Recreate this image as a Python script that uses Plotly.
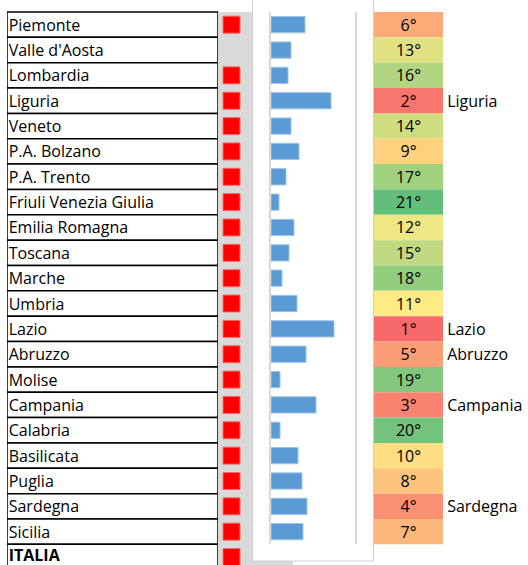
import plotly.graph_objects as go

# ---------------- data ----------------
regions = ["Piemonte", "Valle d'Aosta", "Lombardia", "Liguria", "Veneto",
           "P.A. Bolzano", "P.A. Trento", "Friuli Venezia Giulia", "Emilia Romagna",
           "Toscana", "Marche", "Umbria", "Lazio", "Abruzzo", "Molise", "Campania",
           "Calabria", "Basilicata", "Puglia", "Sardegna", "Sicilia"]
total_label = "ITALIA"
flags = [1, 0, 1, 1, 1, 1, 1, 1, 1, 1, 1, 1, 1, 1, 1, 1, 1, 1, 1, 1, 1]
flag_total = 1
bar_values = [34, 20, 17, 60, 20, 28, 15, 8, 23, 18, 11, 26, 63, 35, 9, 45, 9, 27, 31, 36, 32]
ranks = [6, 13, 16, 2, 14, 9, 17, 21, 12, 15, 18, 11, 1, 5, 19, 3, 20, 10, 8, 4, 7]
top_n_labelled = 5
bar_axis_max = 84

# ---------------- layout constants ----------------
W, H = 528, 565
ROW_TOP, ROW_H = 12, 25.35
FONT = "Open Sans"
FS = 16
TEXT_DROP = 2  # px, text sits slightly low in the Excel cells

all_rows = regions + [total_label]
n_all = len(all_rows)
n_reg = len(regions)

def px_x(a, b):
    return [a / W, b / W]

y_lo = -0.5 - ROW_TOP / ROW_H
y_hi = (H - ROW_TOP) / ROW_H - 0.5
s = TEXT_DROP / ROW_H
d_bot = (H - (ROW_TOP + n_reg * ROW_H)) / H
d_top = (H - ROW_TOP) / H

fig = go.Figure()

# table cells (name column)
fig.add_trace(go.Bar(
    x=[1] * n_all, y=all_rows, orientation="h", base=0, width=1,
    marker=dict(color="white", line=dict(color="black", width=1.5)),
    xaxis="x", yaxis="y", hoverinfo="skip", showlegend=False))
fig.add_trace(go.Scatter(
    x=[0.008] * n_reg, y=regions, mode="text", text=regions,
    textposition="middle right",
    textfont=dict(family=FONT, size=FS, color="black"),
    xaxis="x", yaxis="y3", hoverinfo="skip", showlegend=False))
fig.add_trace(go.Scatter(
    x=[0.008], y=[total_label], mode="text", text=["<b>" + total_label + "</b>"],
    textposition="middle right",
    textfont=dict(family=FONT, size=FS, color="black"),
    xaxis="x", yaxis="y", hoverinfo="skip", showlegend=False))

# red flag squares
flag_rows = [r for r, f in zip(all_rows, flags + [flag_total]) if f]
fig.add_trace(go.Scatter(
    x=[0] * len(flag_rows), y=flag_rows, mode="markers",
    marker=dict(symbol="square", size=17, color="#FF0000",
                line=dict(color="#F46A6A", width=1)),
    xaxis="x2", yaxis="y", hoverinfo="skip", showlegend=False))

# bar chart
fig.add_trace(go.Bar(
    x=bar_values, y=regions, orientation="h", width=0.64,
    marker=dict(color="#5B9BD5", line=dict(color="#9DC3E6", width=1)),
    xaxis="x3", yaxis="y2", hoverinfo="skip", showlegend=False))

# rank column (colour scale)
fig.add_trace(go.Bar(
    x=[1] * n_reg, y=regions, orientation="h", base=-0.5, width=1,
    marker=dict(color=ranks,
                colorscale=[[0, "#F8696B"], [0.5, "#FFEB84"], [1, "#63BE7B"]],
                cmin=min(ranks), cmax=max(ranks), showscale=False,
                line=dict(width=0)),
    xaxis="x4", yaxis="y", hoverinfo="skip", showlegend=False))
fig.add_trace(go.Scatter(
    x=[0] * n_reg, y=regions, mode="text", text=[f"{k}°" for k in ranks],
    textposition="middle center",
    textfont=dict(family=FONT, size=FS, color="black"),
    xaxis="x4", yaxis="y3", hoverinfo="skip", showlegend=False))

lab_rows = [r for r, k in zip(regions, ranks) if k <= top_n_labelled]
fig.add_trace(go.Scatter(
    x=[0.56] * len(lab_rows), y=lab_rows, mode="text", text=lab_rows,
    textposition="middle right",
    textfont=dict(family=FONT, size=FS, color="black"),
    xaxis="x4", yaxis="y3", hoverinfo="skip", showlegend=False))

def hidden():
    return dict(showgrid=False, zeroline=False, showticklabels=False,
                showline=False, ticks="")

cell_w = 69
fig.update_layout(
    width=W, height=H, margin=dict(l=0, r=0, t=0, b=0),
    paper_bgcolor="white", plot_bgcolor="rgba(0,0,0,0)",
    barmode="overlay",
    xaxis=dict(domain=px_x(7, 218), range=[0, 1], **hidden()),
    xaxis2=dict(domain=px_x(222, 241), range=[-1, 1], anchor="y", **hidden()),
    xaxis3=dict(domain=px_x(271, 355), range=[0, bar_axis_max], showgrid=False,
                zeroline=False, showticklabels=False, showline=False, ticks="",
                anchor="y2"),
    xaxis4=dict(domain=px_x(374, W), range=[-0.5, -0.5 + (W - 374) / cell_w],
                anchor="y", **hidden()),
    yaxis=dict(domain=[0, 1], range=[y_hi, y_lo], type="category",
               categoryorder="array", categoryarray=all_rows, anchor="x", **hidden()),
    yaxis3=dict(domain=[0, 1], range=[y_hi - s, y_lo - s], type="category",
                categoryorder="array", categoryarray=all_rows, anchor="x",
                overlaying="y", **hidden()),
    yaxis2=dict(domain=[d_bot, d_top], range=[n_reg - 0.5, -0.5], type="category",
                categoryorder="array", categoryarray=regions, anchor="x3",
                showgrid=False, zeroline=False, showticklabels=False, ticks="",
                showline=True, mirror=True, linecolor="#D9D9D9", linewidth=2),
    shapes=[
        dict(type="rect", xref="paper", yref="paper", layer="below",
             x0=217 / W, x1=293 / W, y0=0, y1=(H - ROW_TOP) / H,
             fillcolor="#D9D9D9", line=dict(width=0)),
        dict(type="rect", xref="paper", yref="paper", layer="below",
             x0=252.5 / W, x1=373.5 / W, y0=(H - 561) / H, y1=1.01,
             fillcolor="white", line=dict(color="#D0D0D0", width=1)),
    ],
)

fig.write_html("out.html", config={"displayModeBar": False},
               post_script="document.body.style.margin='0px';document.body.style.overflow='hidden';")
